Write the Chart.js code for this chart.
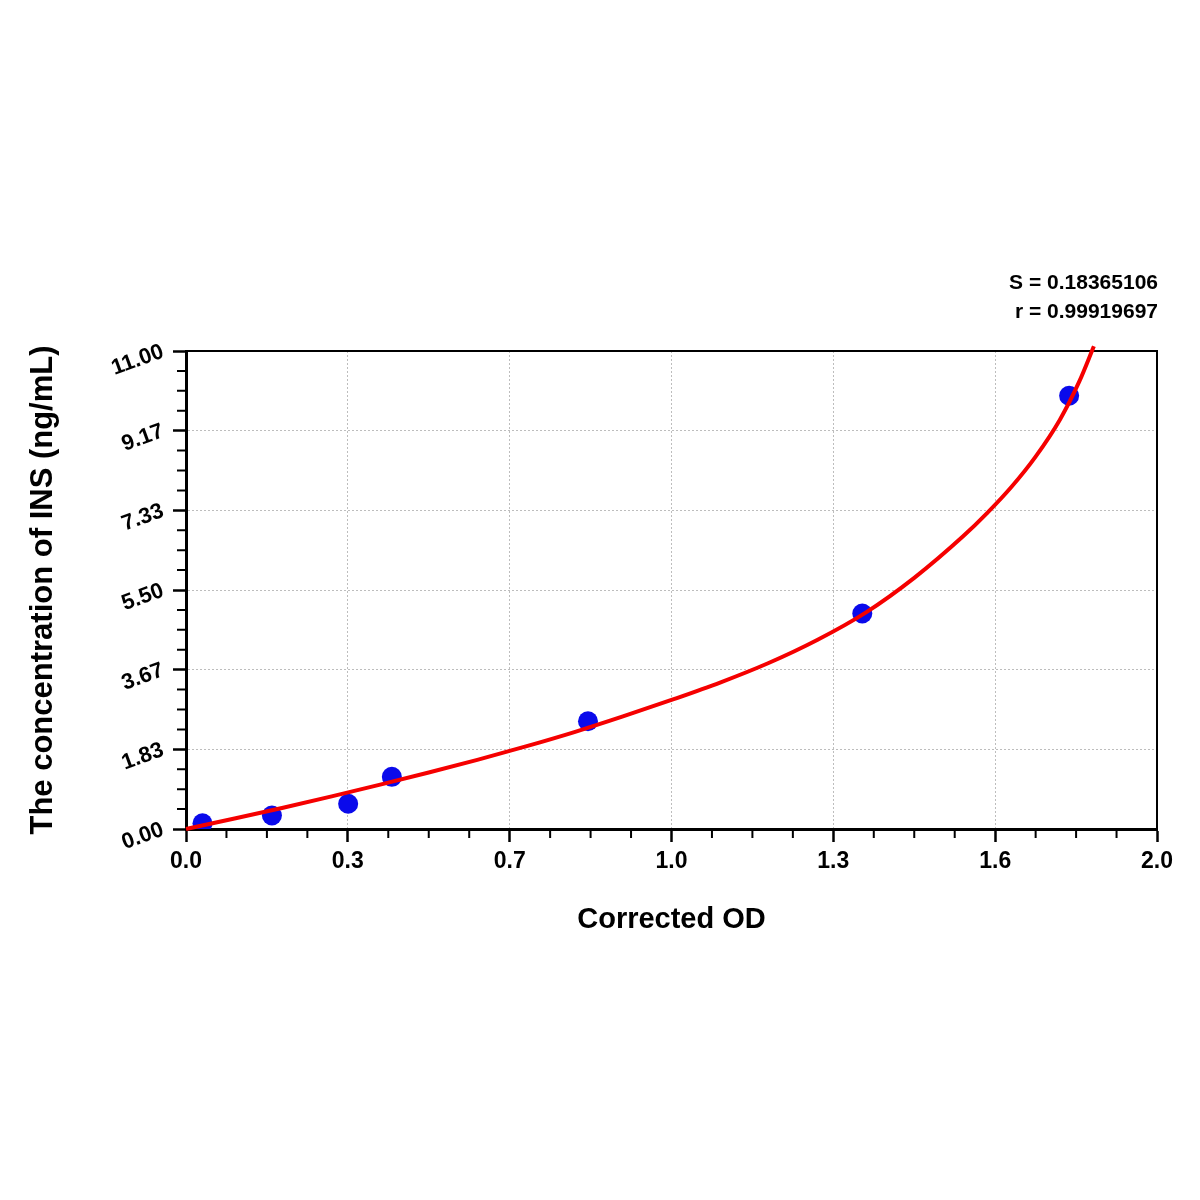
<!DOCTYPE html>
<html>
<head>
<meta charset="utf-8">
<script src="https://cdn.jsdelivr.net/npm/chart.js@4.4.0/dist/chart.umd.min.js"></script>
<style>
  html, body { margin: 0; padding: 0; background: #fff; }
</style>
</head>
<body>
<canvas id="chart" width="1200" height="1200"></canvas>
<script>
// standards: corrected OD vs concentration (ng/mL)
const stdOD = [0.034, 0.177, 0.334, 0.424, 0.828, 1.393, 1.819];
const stdConc = [0.13, 0.31, 0.58, 1.20, 2.48, 4.96, 9.97];

// fitted curve
const fitOD = [0, 0.1, 0.2, 0.3, 0.4, 0.5, 0.6, 0.7, 0.8, 0.9, 1.0, 1.1, 1.2, 1.3, 1.4, 1.5, 1.6, 1.65, 1.7, 1.75, 1.8, 1.84, 1.87];
const fitConc = [0, 0.24, 0.49, 0.75, 1.02, 1.30, 1.59, 1.90, 2.23, 2.59, 2.97, 3.37, 3.82, 4.35, 4.98, 5.78, 6.73, 7.27, 7.87, 8.57, 9.42, 10.30, 11.11];

const xTickValues = [0, 0.3333, 0.6667, 1, 1.3333, 1.6667, 2];
const xTickLabels = ['0.0', '0.3', '0.7', '1.0', '1.3', '1.6', '2.0'];
const yTickValues = [0, 1.8333, 3.6667, 5.5, 7.3333, 9.1667, 11];
const yTickLabels = ['0.00', '1.83', '3.67', '5.50', '7.33', '9.17', '11.00'];

const fitStats = ['S = 0.18365106', 'r = 0.99919697'];

const FONT = "'Liberation Sans', Arial, sans-serif";

// top/right frame, minor ticks and the fit statistics
const framePlugin = {
    id: 'frame',
    beforeDatasetsDraw(chart) {
        const {ctx, chartArea: a} = chart;
        ctx.save();
        ctx.strokeStyle = '#000';
        ctx.lineWidth = 2;
        ctx.beginPath();
        ctx.moveTo(a.left, a.top);
        ctx.lineTo(a.right, a.top);
        ctx.lineTo(a.right, a.bottom);
        ctx.stroke();
        ctx.restore();
    },
    afterDraw(chart) {
        const {ctx, chartArea: a, scales: {x, y}} = chart;
        ctx.save();
        ctx.strokeStyle = '#000';
        ctx.lineWidth = 2;
        ctx.beginPath();
        for (let i = 0; i < xTickValues.length - 1; i++) {
            const step = (xTickValues[i + 1] - xTickValues[i]) / 4;
            for (let k = 1; k < 4; k++) {
                const px = x.getPixelForValue(xTickValues[i] + k * step);
                ctx.moveTo(px, a.bottom);
                ctx.lineTo(px, a.bottom + 9);
            }
        }
        for (let i = 0; i < yTickValues.length - 1; i++) {
            const step = (yTickValues[i + 1] - yTickValues[i]) / 4;
            for (let k = 1; k < 4; k++) {
                const py = y.getPixelForValue(yTickValues[i] + k * step);
                ctx.moveTo(a.left, py);
                ctx.lineTo(a.left - 9, py);
            }
        }
        ctx.stroke();

        ctx.fillStyle = '#000';
        ctx.font = 'bold 21px ' + FONT;
        ctx.textAlign = 'right';
        ctx.textBaseline = 'alphabetic';
        ctx.fillText(fitStats[0], a.right + 1, 289);
        ctx.fillText(fitStats[1], a.right + 1, 318);
        ctx.restore();
    }
};

const axisCommon = {
    grid: {color: '#bdbdbd', lineWidth: 1, tickLength: 13, tickColor: '#000', tickWidth: 2.5},
    border: {display: true, color: '#000', width: 3, dash: [2, 2]}
};

new Chart(document.getElementById('chart'), {
    type: 'scatter',
    data: {
        datasets: [
            {
                label: 'Fit',
                data: fitOD.map((v, i) => ({x: v, y: fitConc[i]})),
                showLine: true,
                borderColor: 'rgb(245,0,0)',
                borderWidth: 4,
                pointRadius: 0,
                cubicInterpolationMode: 'monotone',
                clip: false
            },
            {
                label: 'Standards',
                data: stdOD.map((v, i) => ({x: v, y: stdConc[i]})),
                pointRadius: 10,
                pointBackgroundColor: 'rgb(10,10,235)',
                pointBorderWidth: 0
            }
        ]
    },
    options: {
        responsive: false,
        animation: false,
        devicePixelRatio: 1,
        layout: {padding: {top: 351, right: 43, bottom: 240, left: 0}},
        plugins: {
            legend: {display: false},
            tooltip: {enabled: false}
        },
        scales: {
            x: {
                type: 'linear',
                min: 0,
                max: 2,
                afterBuildTicks: s => { s.ticks = xTickValues.map(v => ({value: v})); },
                afterFit: s => { s.height = 131; },
                ticks: {
                    callback: (v, i) => xTickLabels[i],
                    autoSkip: false,
                    maxRotation: 0,
                    minRotation: 0,
                    padding: 6,
                    color: '#000',
                    font: {family: FONT, size: 23, weight: 'bold'}
                },
                grid: axisCommon.grid,
                border: axisCommon.border,
                title: {
                    display: true,
                    text: 'Corrected OD',
                    color: '#000',
                    font: {family: FONT, size: 29, weight: 'bold'},
                    padding: {top: 0, bottom: 23}
                }
            },
            y: {
                type: 'linear',
                min: 0,
                max: 11,
                afterBuildTicks: s => { s.ticks = yTickValues.map(v => ({value: v})); },
                afterFit: s => { s.width = 186; },
                ticks: {
                    callback: (v, i) => yTickLabels[i],
                    autoSkip: false,
                    minRotation: 20,
                    maxRotation: 20,
                    padding: 10,
                    color: '#000',
                    font: {family: FONT, size: 22, weight: 'bold'}
                },
                grid: axisCommon.grid,
                border: axisCommon.border,
                title: {
                    display: true,
                    text: 'The concentration of INS (ng/mL)',
                    color: '#000',
                    font: {family: FONT, size: 31, weight: 'bold'},
                    padding: {top: 25, bottom: 0}
                }
            }
        }
    },
    plugins: [framePlugin]
});
</script>
</body>
</html>
